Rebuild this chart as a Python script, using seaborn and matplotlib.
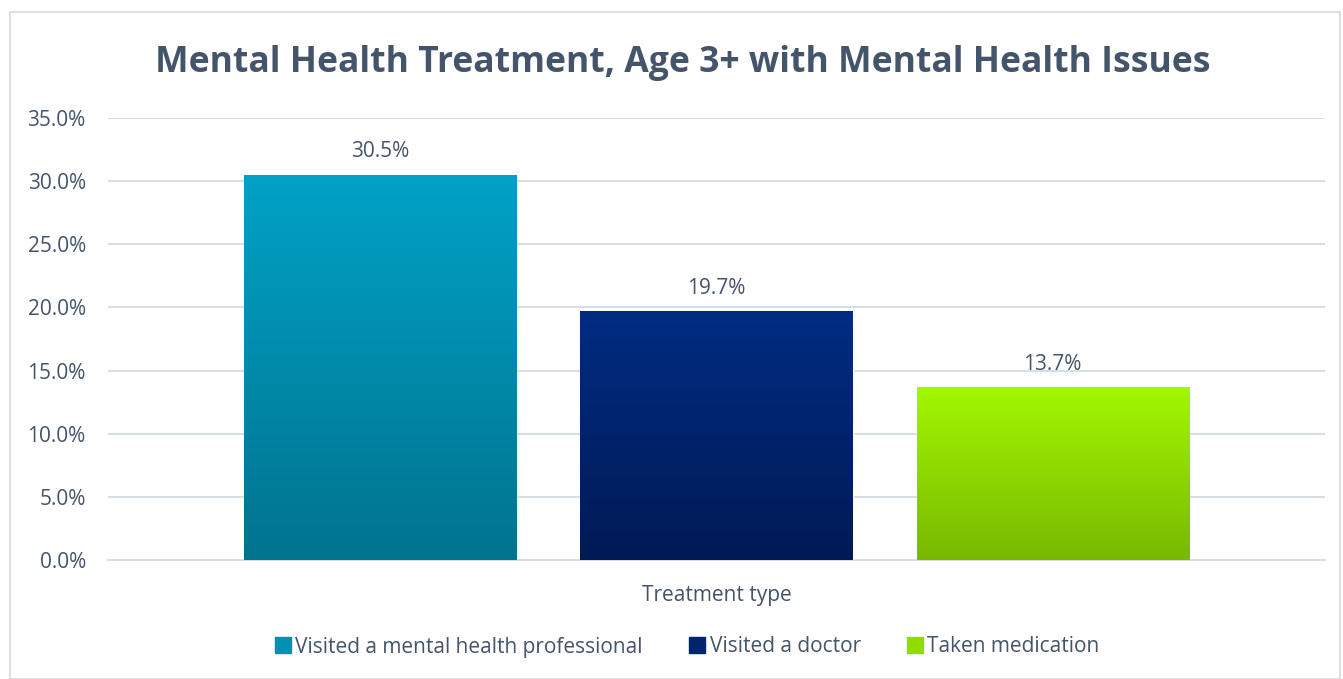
import numpy as np
import pandas as pd
import matplotlib
matplotlib.use("Agg")
import matplotlib.pyplot as plt
import seaborn as sns
from matplotlib.colors import LinearSegmentedColormap
from matplotlib.lines import Line2D
from matplotlib.patches import Rectangle

categories = ["Visited a mental health professional", "Visited a doctor", "Taken medication"]
values = [30.5, 19.7, 13.7]
top_colors = ["#00A2C6", "#002C82", "#A2F800"]
bottom_colors = ["#00738E", "#001A55", "#78B800"]
title = "Mental Health Treatment, Age 3+ with Mental Health Issues"
xlabel = "Treatment type"

sns.set_theme(style="white")
plt.rcParams["font.family"] = ["Open Sans", "DejaVu Sans"]
text_color = "#44546A"
grid_color = "#D9DEE5"

fig = plt.figure(figsize=(13.43, 6.79), dpi=100)
fig.patches.append(Rectangle((10 / 1343, 0), 1330 / 1343, 1 - 12 / 679, transform=fig.transFigure,
                             fill=False, edgecolor="#D9D9D9", linewidth=1.2))
ax = fig.add_axes([108 / 1343, 1 - 560 / 679, (1325 - 108) / 1343, (560 - 118) / 679])

df = pd.DataFrame({"category": categories, "value": values})
df["pos"] = range(len(categories))
sns.barplot(data=df, x="pos", y="value", hue="category", palette=top_colors, dodge=False,
            width=0.81, ax=ax, legend=False, zorder=3)

ax.set_ylim(0, 35)
ax.set_xlim(-0.81, 2.81)
ax.set_yticks(np.arange(0, 35.1, 5))
ax.set_yticklabels([f"{v:.1f}%" for v in np.arange(0, 35.1, 5)], fontsize=15, color=text_color)
ax.set_xticks([])
ax.set_xlabel(xlabel, fontsize=15, color=text_color, labelpad=18)
ax.set_ylabel("")
ax.tick_params(axis="y", length=0, pad=16)
for y in np.arange(5, 35.1, 5):
    ax.axhline(y, color=grid_color, linewidth=1.5, zorder=1)
for s in ["top", "right", "left"]:
    ax.spines[s].set_visible(False)
ax.spines["bottom"].set_color(grid_color)
ax.spines["bottom"].set_linewidth(1.5)

# gradient fills on the seaborn bars
bars = [p for p in ax.patches if p.get_height() > 0]
bars.sort(key=lambda p: p.get_x())
for p, ct, cb, v in zip(bars, top_colors, bottom_colors, values):
    x0, w, h = p.get_x(), p.get_width(), p.get_height()
    cmap = LinearSegmentedColormap.from_list("g", [cb, ct])
    grad = np.linspace(0, 1, 256).reshape(-1, 1)
    im = ax.imshow(grad, cmap=cmap, aspect="auto", origin="lower",
                   extent=[x0, x0 + w, 0, h], zorder=3.5)
    im.set_clip_path(p)
    ax.annotate(f"{v:.1f}%", (x0 + w / 2, h), xytext=(0, 16.5), textcoords="offset points",
                ha="center", va="center", fontsize=15, color=text_color)
ax.set_xlim(-0.81, 2.81)
ax.set_ylim(0, 35)

fig.text(683 / 1343, 1 - 63 / 679, title, ha="center", va="center", fontsize=25.6,
         fontweight="bold", color=text_color)

handles = [Line2D([0], [0], marker="s", linestyle="", markersize=11,
                  markerfacecolor=c, markeredgecolor=c) for c in
           ["#0090B0", "#00246E", "#90DC00"]]
fig.legend(handles, categories, loc="center", bbox_to_anchor=(685 / 1343, 1 - 647 / 679), ncol=3,
           frameon=False, fontsize=15, labelcolor=text_color, handletextpad=0.0,
           columnspacing=2.0, handlelength=1.2)

fig.savefig("out.png", dpi=100)
